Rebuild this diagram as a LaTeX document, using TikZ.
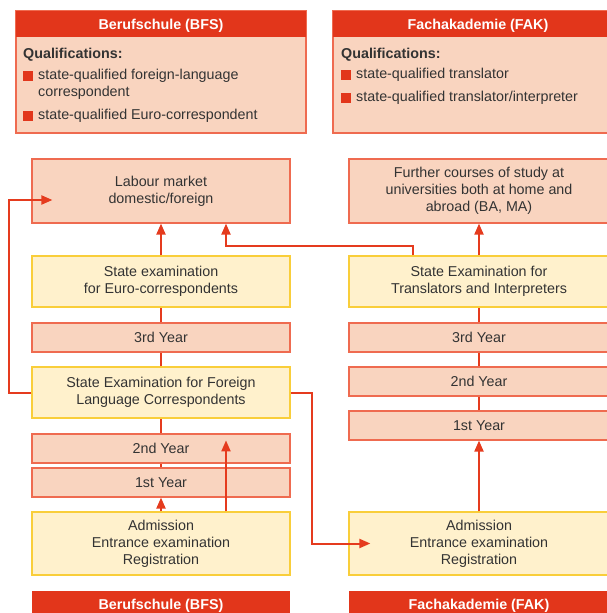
\documentclass[tikz,border=0pt]{standalone}
\usepackage{fontspec}
\setmainfont{Liberation Sans}
\usetikzlibrary{arrows.meta}
\definecolor{hdrred}{HTML}{E2361B}
\definecolor{conred}{HTML}{E53B1E}
\definecolor{salfill}{HTML}{F9D4BF}
\definecolor{salline}{HTML}{EF6B50}
\definecolor{yelfill}{HTML}{FFF1CC}
\definecolor{yelline}{HTML}{F9CE3A}
\definecolor{txt}{HTML}{333333}
\begin{document}
\begin{tikzpicture}[x=1pt,y=-1pt,
  base/.style={inner sep=0pt, align=center, text=txt, line width=1.2pt,
    font=\fontsize{14.3}{17}\selectfont},
  salbox/.style={base, draw=salline, fill=salfill},
  yelbox/.style={base, draw=yelline, fill=yelfill},
  hdr/.style={inner sep=0pt, fill=hdrred, text=white, text height=10pt, text depth=0pt,
    font=\fontsize{14.3}{17}\selectfont\bfseries},
  lbl/.style={inner sep=0pt, anchor=west, text=txt, text height=7.5pt, text depth=0pt,
    font=\fontsize{14.3}{17}\selectfont},
  bul/.style={fill=hdrred, inner sep=0pt, minimum width=9.5pt, minimum height=9.5pt},
  conn/.style={draw=conred, line width=2pt},
  arr/.style={conn, -{Triangle[width=9pt,length=11pt]}}
]
\useasboundingbox (0,0) rectangle (607,613);
\clip (0,0) rectangle (607,613);

% top qualification boxes
\node[salbox, minimum width=290pt, minimum height=122pt] (qbfs) at (161,72) {};
\node[hdr, minimum width=290pt, minimum height=26pt] (hbfs) at (161,24) {Berufschule (BFS)};
\node[salbox, minimum width=290pt, minimum height=122pt] (qfak) at (478,72) {};
\node[hdr, minimum width=290pt, minimum height=26pt] (hfak) at (478,24) {Fachakademie (FAK)};

\node[lbl, text height=10pt, font=\fontsize{14.3}{17}\selectfont\bfseries] (q1) at (23,53) {Qualifications:};
\node[bul] (b1) at (28,76) {};
\node[lbl] (t1a) at (38,76) {state-qualified foreign-language};
\node[lbl] (t1b) at (38,93) {correspondent};
\node[bul] (b2) at (28,116) {};
\node[lbl] (t2) at (38,116) {state-qualified Euro-correspondent};

\node[lbl, text height=10pt, font=\fontsize{14.3}{17}\selectfont\bfseries] (q2) at (341,53) {Qualifications:};
\node[bul] (b3) at (346,75) {};
\node[lbl] (t3) at (356,75) {state-qualified translator};
\node[bul] (b4) at (346,98) {};
\node[lbl] (t4) at (356,98) {state-qualified translator/interpreter};

% left column
\node[salbox, minimum width=258pt, minimum height=64pt] (lab) at (161,191) {Labour market\\domestic/foreign};
\node[yelbox, minimum width=258pt, minimum height=51pt] (euro) at (161,281.5) {State examination\\for Euro-correspondents};
\node[salbox, minimum width=258pt, minimum height=29pt] (l3) at (161,337.5) {3rd Year};
\node[yelbox, minimum width=258pt, minimum height=51pt] (flc) at (161,392.5) {State Examination for Foreign\\Language Correspondents};
\node[salbox, minimum width=258pt, minimum height=29pt] (l2) at (161,448.5) {2nd Year};
\node[salbox, minimum width=258pt, minimum height=29pt] (l1) at (161,482.5) {1st Year};
\node[yelbox, minimum width=258pt, minimum height=63pt] (adl) at (161,543.5) {Admission\\Entrance examination\\Registration};
\node[hdr, minimum width=258pt, minimum height=26pt] (fbfs) at (161,604) {Berufschule (BFS)};

% right column
\node[salbox, minimum width=260pt, minimum height=64pt] (fur) at (479,191) {Further courses of study at\\universities both at home and\\abroad (BA, MA)};
\node[yelbox, minimum width=260pt, minimum height=51pt] (ti) at (479,281.5) {State Examination for\\Translators and Interpreters};
\node[salbox, minimum width=260pt, minimum height=29pt] (r3) at (479,337.5) {3rd Year};
\node[salbox, minimum width=260pt, minimum height=29pt] (r2) at (479,381.5) {2nd Year};
\node[salbox, minimum width=260pt, minimum height=29pt] (r1) at (479,425.5) {1st Year};
\node[yelbox, minimum width=260pt, minimum height=63pt] (adr) at (479,543.5) {Admission\\Entrance examination\\Registration};
\node[hdr, minimum width=260pt, minimum height=26pt] (ffak) at (479,604) {Fachakademie (FAK)};

% connectors left
\draw[arr] (euro.north) -- (lab.south);
\draw[conn] (l3.north) -- (euro.south);
\draw[conn] (flc.north) -- (l3.south);
\draw[conn] (l2.north) -- (flc.south);
\draw[conn] (l1.north) -- (l2.south);
\draw[arr] (adl.north) -- (l1.south);
\draw[arr] ([xshift=65pt]adl.north) -- ([xshift=65pt,yshift=-7pt]l2.north);
\draw[arr] (flc.west) -- ++(-22,0) |- ([xshift=21pt,yshift=-9pt]lab.west);
\draw[arr] (flc.east) -- ++(21,0) |- ([xshift=22pt]adr.west);

% connectors right
\draw[arr] (ti.north) -- (fur.south);
\draw[arr] ([xshift=-66pt]ti.north) -- ++(0,-9) -| ([xshift=65pt]lab.south);
\draw[conn] (r3.north) -- (ti.south);
\draw[conn] (r2.north) -- (r3.south);
\draw[conn] (r1.north) -- (r2.south);
\draw[arr] (adr.north) -- (r1.south);
\end{tikzpicture}
\end{document}
